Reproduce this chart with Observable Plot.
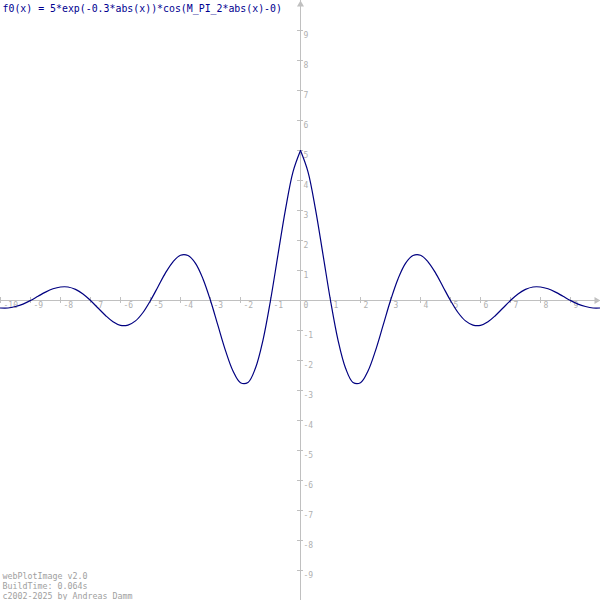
<!DOCTYPE html>
<html><head><meta charset="utf-8">
<script src="https://cdn.jsdelivr.net/npm/d3@7"></script>
<script src="https://cdn.jsdelivr.net/npm/@observablehq/plot@0.6"></script>
<style>body{margin:0;background:#fff}</style>
</head><body><div id="chart"></div>
<script>
const title = "f0(x) = 5*exp(-0.3*abs(x))*cos(M_PI_2*abs(x)-0)";
const footerLines = ["webPlotImage v2.0", "BuildTime: 0.064s", "c2002-2025 by Andreas Damm"];
const xTickLabels = [-10, -9, -8, -7, -6, -5, -4, -3, -2, -1, 0, 1, 2, 3, 4, 5, 6, 7, 8, 9];
const yTickLabels = [-9, -8, -7, -6, -5, -4, -3, -2, -1, 1, 2, 3, 4, 5, 6, 7, 8, 9];
const xValues = [
  -10, -9.75, -9.5, -9.25, -9, -8.75, -8.5, -8.25, -8, -7.75, -7.5, -7.25, -7, -6.75, -6.5, -6.25,
  -6, -5.75, -5.5, -5.25, -5, -4.75, -4.5, -4.25, -4, -3.75, -3.5, -3.25, -3, -2.75, -2.5, -2.25,
  -2, -1.75, -1.5, -1.25, -1, -0.75, -0.5, -0.25, 0,
  0.25, 0.5, 0.75, 1, 1.25, 1.5, 1.75, 2, 2.25, 2.5, 2.75, 3, 3.25, 3.5, 3.75, 4,
  4.25, 4.5, 4.75, 5, 5.25, 5.5, 5.75, 6, 6.25, 6.5, 6.75, 7, 7.25, 7.5, 7.75, 8,
  8.25, 8.5, 8.75, 9, 9.25, 9.5, 9.75, 10
];
const yValues = [
  -0.25, -0.25, -0.20, -0.12, 0.00, 0.14, 0.28, 0.39, 0.45, 0.45, 0.37, 0.22, 0.00, -0.25, -0.50, -0.71,
  -0.83, -0.82, -0.68, -0.40, 0.00, 0.46, 0.92, 1.29, 1.51, 1.50, 1.24, 0.72, 0.00, -0.84, -1.67, -2.35,
  -2.74, -2.73, -2.25, -1.32, 0.00, 1.53, 3.04, 4.29, 5.00,
  4.29, 3.04, 1.53, 0.00, -1.32, -2.25, -2.73, -2.74, -2.35, -1.67, -0.84, 0.00, 0.72, 1.24, 1.50, 1.51,
  1.29, 0.92, 0.46, 0.00, -0.40, -0.68, -0.82, -0.83, -0.71, -0.50, -0.25, 0.00, 0.22, 0.37, 0.45, 0.45,
  0.39, 0.28, 0.14, 0.00, -0.12, -0.20, -0.25, -0.25
];

const pts = xValues.map((x, i) => ({x, y: yValues[i]}));
const leftBranch = pts.filter(d => d.x <= 0);
const rightBranch = pts.filter(d => d.x >= 0);

const axisColor = "#c0c0c0";
const labelColor = "#b0b0b0";
const mono = "'DejaVu Sans Mono', 'Liberation Mono', monospace";

const chart = Plot.plot({
  width: 600,
  height: 600,
  margin: 0,
  x: {domain: [-10, 10], axis: null},
  y: {domain: [-10, 10], axis: null},
  style: {background: "#fff"},
  marks: [
    Plot.ruleY([0], {stroke: axisColor, strokeWidth: 1}),
    Plot.ruleX([0], {stroke: axisColor, strokeWidth: 1}),
    Plot.ruleX(xTickLabels.filter(d => d !== 0), {x: d => d, y1: -0.1, y2: 0.1, stroke: axisColor}),
    Plot.ruleY(yTickLabels, {y: d => d, x1: -0.1, x2: 0.1, stroke: axisColor}),
    Plot.dot([{x: 0, y: 10}], {x: "x", y: "y", symbol: "triangle", r: 2.6, fill: axisColor, stroke: "none", dy: 4}),
    Plot.dot([{x: 10, y: 0}], {x: "x", y: "y", symbol: "triangle", r: 2.6, fill: axisColor, stroke: "none", rotate: 90, dx: -4}),
    Plot.text(xTickLabels, {x: d => d, y: 0, text: d => String(d), dx: 3, dy: 5, textAnchor: "start", fill: labelColor, fontFamily: mono, fontSize: 8}),
    Plot.text(yTickLabels, {x: 0, y: d => d, text: d => String(d), dx: 3, dy: 4.5, textAnchor: "start", fill: labelColor, fontFamily: mono, fontSize: 8}),
    Plot.line(leftBranch, {x: "x", y: "y", stroke: "#000080", strokeWidth: 1.2, curve: "catmull-rom"}),
    Plot.line(rightBranch, {x: "x", y: "y", stroke: "#000080", strokeWidth: 1.2, curve: "catmull-rom"}),
    Plot.text([title], {frameAnchor: "top-left", text: d => d, dx: 2, dy: 4, lineAnchor: "top", textAnchor: "start", fill: "#000090", fontFamily: mono, fontSize: 9.9}),
    Plot.text([footerLines.join("\n")], {frameAnchor: "bottom-left", text: d => d, dx: 2, dy: -2, lineAnchor: "bottom", textAnchor: "start", lineHeight: 1.2, fill: "#a0a0a0", fontFamily: mono, fontSize: 8.3})
  ]
});
document.getElementById("chart").appendChild(chart);
</script>
</body></html>
